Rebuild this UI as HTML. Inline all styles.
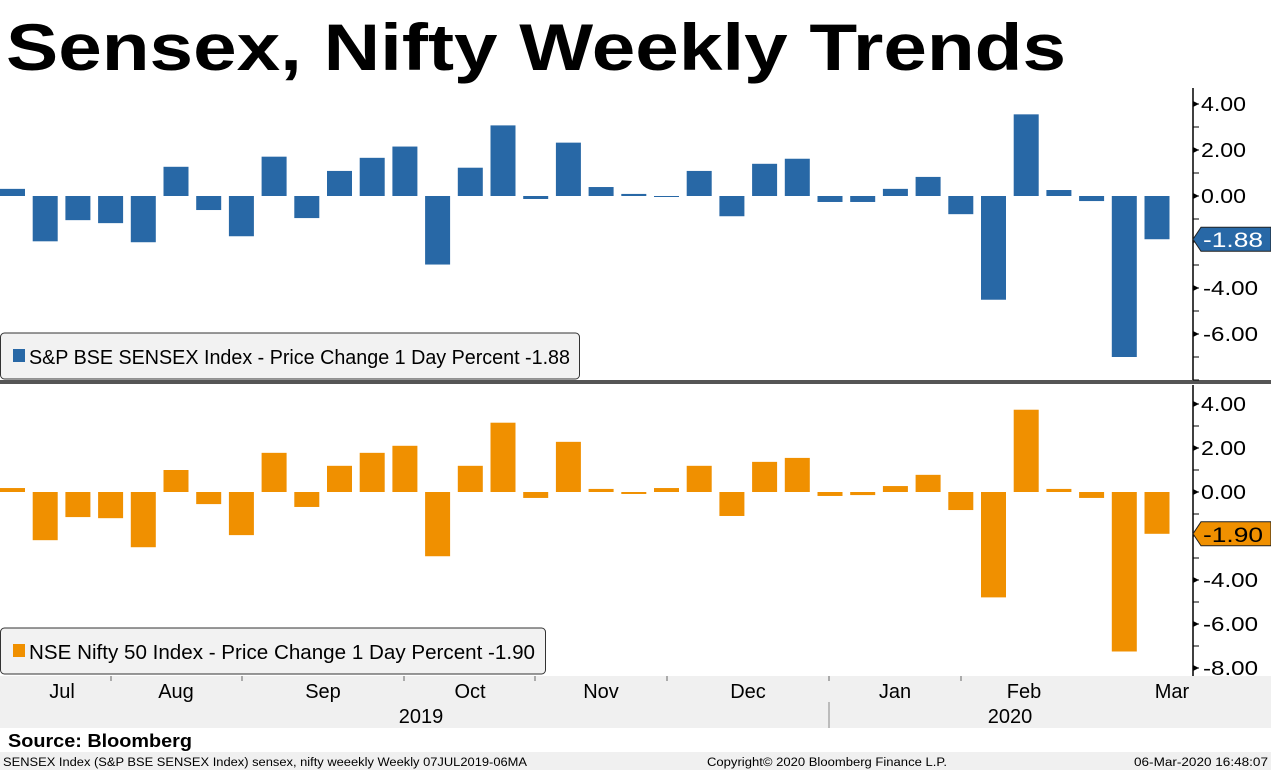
<!DOCTYPE html>
<html><head><meta charset="utf-8"><style>
body{margin:0;width:1271px;height:770px;overflow:hidden;background:#fff;font-family:"Liberation Sans","DejaVu Sans",sans-serif}
svg{display:block}
</style></head><body>
<svg id="c" width="1271" height="770" font-family="Liberation Sans, DejaVu Sans, sans-serif">
<text x="6" y="70" font-size="66" font-weight="bold" fill="#000" textLength="1060" lengthAdjust="spacingAndGlyphs">Sensex, Nifty Weekly Trends</text>
<rect x="0" y="380" width="1271" height="4" fill="#555"/>
<rect x="0" y="676" width="1271" height="52" fill="#f0f0f0"/>
<line x1="829" y1="702" x2="829" y2="728" stroke="#888"/>
<text x="8" y="747" font-size="18" font-weight="bold" textLength="184" lengthAdjust="spacingAndGlyphs">Source: Bloomberg</text>
<rect x="0" y="752" width="1271" height="18" fill="#f0f0f0"/>
<text x="3" y="766" font-size="11.5" textLength="524" lengthAdjust="spacingAndGlyphs">SENSEX Index (S&amp;P BSE SENSEX Index) sensex, nifty weeekly  Weekly 07JUL2019-06MA</text>
<text x="707" y="766" font-size="11.5" textLength="240" lengthAdjust="spacingAndGlyphs">Copyright© 2020 Bloomberg Finance L.P.</text>
<text x="1134" y="766" font-size="11.5" textLength="134" lengthAdjust="spacingAndGlyphs">06-Mar-2020 16:48:07</text>
<g id="g"></g>
</svg>
<script>
const sensex=[0.31,-1.97,-1.05,-1.18,-2.01,1.27,-0.61,-1.75,1.71,-0.96,1.09,1.66,2.15,-2.98,1.23,3.07,-0.13,2.32,0.39,0.09,-0.04,1.09,-0.88,1.40,1.62,-0.26,-0.26,0.31,0.83,-0.79,-4.51,3.55,0.26,-0.22,-7.0,-1.88];
const nifty=[0.18,-2.19,-1.14,-1.19,-2.51,1.0,-0.55,-1.96,1.78,-0.68,1.19,1.78,2.10,-2.92,1.19,3.15,-0.27,2.28,0.14,-0.09,0.18,1.19,-1.09,1.37,1.55,-0.18,-0.14,0.27,0.78,-0.82,-4.79,3.74,0.14,-0.27,-7.25,-1.90];
const topTicks=[4,2,0,-4,-6];
const botTicks=[4,2,0,-4,-6,-8];
const months=["Jul","Aug","Sep","Oct","Nov","Dec","Jan","Feb","Mar"];
const monthX=[62,176,323,470,601,748,895,1024,1172];
const years=["2019","2020"];
const NS="http://www.w3.org/2000/svg";
const g=document.getElementById('g');
function mk(t,a,p){const e=document.createElementNS(NS,t);for(const k in a)e.setAttribute(k,a[k]);(p||g).appendChild(e);return e;}
const xBar=i=>32.7*i;
function panel(vals,zeroY,scale,color,ticks,minY,maxY,legend,legW,legY,legTL,callout,name){
  const y=v=>zeroY-v*scale;
  vals.forEach((v,i)=>{
    const r=mk('rect',{x:xBar(i),y:Math.min(y(v),zeroY),width:25,height:Math.max(1,Math.abs(v)*scale),fill:color});
    
    
  });
  const ax=mk('line',{x1:1193,y1:minY,x2:1193,y2:maxY,stroke:'#000','stroke-width':1.5});
  
  
  for(let v=-9;v<=5;v++){const yy=y(v);if(yy<minY||yy>maxY)continue;
    mk('line',{x1:1193,y1:yy,x2:1199,y2:yy,stroke:'#000'});}
  ticks.forEach(t=>{
    mk('path',{d:`M1193 ${y(t)-3}L1199 ${y(t)}L1193 ${y(t)+3}Z`,fill:'#000'});
    const tx=mk('text',{x:t<0?1203:1201,y:y(t)+7,'font-size':20,fill:'#000',textLength:t<0?55:45,lengthAdjust:'spacingAndGlyphs'});
    tx.textContent=t.toFixed(2);
    
    
  });
  const last=vals[vals.length-1],cy=y(last);
  const co=mk('path',{d:`M1193 ${cy}L1201 ${cy-12}L1271 ${cy-12}L1271 ${cy+12}L1201 ${cy+12}Z`,fill:color,stroke:'#222'});
  
  
  const ct=mk('text',{x:1203,y:cy+8,'font-size':21,fill:callout,textLength:60,lengthAdjust:'spacingAndGlyphs'});
  ct.textContent=last.toFixed(2);
  
  
  const lb=mk('rect',{x:0.5,y:legY,width:legW,height:46,rx:4,fill:'#f2f2f2',stroke:'#333'});
  
  
  mk('rect',{x:13,y:legY+16,width:12,height:13,fill:color});
  const lt=mk('text',{x:29,y:legY+31,'font-size':20,fill:'#000',textLength:legTL,lengthAdjust:'spacingAndGlyphs'});
  lt.textContent=legend+' '+last.toFixed(2);
  
  
}
panel(sensex,196,23,'#2868a6',topTicks,88,380,'S&P BSE SENSEX Index - Price Change 1 Day Percent',579,333,541,'#fff','sensex');
panel(nifty,492,22,'#f09000',botTicks,385,676,'NSE Nifty 50 Index - Price Change 1 Day Percent',545,628,506,'#000','nifty');
[111,242,404,535,667,829,961].forEach(x=>mk('line',{x1:x,y1:676,x2:x,y2:681,stroke:'#666'}));
months.forEach((m,i)=>{
  const t=mk('text',{x:monthX[i],y:698,'font-size':20,'text-anchor':'middle'});
  t.textContent=m;
  
  
});
[421,1010].forEach((x,i)=>{
  const t=mk('text',{x:x,y:723,'font-size':20,'text-anchor':'middle'});
  t.textContent=years[i];
  
  
});
</script>
</body></html>
